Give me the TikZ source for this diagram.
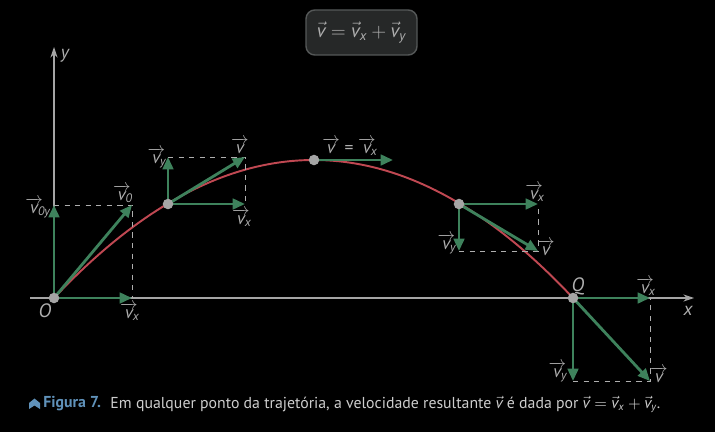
\documentclass[tikz,border=0pt]{standalone}
\usepackage{fontspec}
\setmainfont{PT Sans}
\usepackage{amsmath}
\usetikzlibrary{arrows.meta,positioning}

\definecolor{vecgreen}{RGB}{62,130,92}
\definecolor{trajred}{RGB}{192,72,82}
\definecolor{axisgray}{RGB}{165,165,165}
\definecolor{labgray}{RGB}{175,175,175}
\definecolor{capblue}{RGB}{96,146,186}
\definecolor{captext}{RGB}{205,205,205}
\definecolor{boxfill}{RGB}{38,40,40}
\definecolor{boxline}{RGB}{85,88,88}

\newcommand{\vecv}[1]{$\overrightarrow{\text{\itshape v}}\mkern-5mu_{\text{\itshape #1}}$}
\newcommand{\vecvv}{$\overrightarrow{\text{\itshape v}}$}

\begin{document}
\begin{tikzpicture}[
    x=0.02cm, y=-0.02cm,
    font=\fontsize{10}{12}\selectfont,
    vel/.style={
        draw=vecgreen,
        line width=1.6pt,
        -{Triangle[length=7pt,width=6pt]}
    },
    help/.style={
        draw=labgray,
        dashed,
        line width=0.5pt
    },
    axis/.style={
        draw=axisgray,
        line width=0.6pt,
        -{Stealth[length=6pt,width=4pt]}
    },
    traj/.style={
        draw=trajred,
        line width=1.1pt
    },
    dot/.style={
        circle,
        fill=axisgray,
        inner sep=0pt,
        minimum size=6pt
    },
    vlabel/.style={
        text=labgray,
        inner sep=0pt
    }
  ]

% // background
\fill[black] (0,0) rectangle (715,432);
\useasboundingbox (0,0) rectangle (715,432);

% // axes
\coordinate (xstart) at (30,298);
\coordinate (xend) at (694,298);
\coordinate (ystart) at (54,298);
\coordinate (yend) at (54,47);
\draw [axis] (xstart) -- (xend);
\draw [axis] (ystart) -- (yend);
\node [vlabel, font=\fontsize{10.5}{12}\selectfont\itshape] (xlab) at (688,311) {x};
\node [vlabel, font=\fontsize{10.5}{12}\selectfont\itshape] (ylab) at (65,56) {y};

% // trajectory
\draw [traj] (54,298) .. controls (227.3,114) and (400.7,114) .. (573,298);

% // points
\coordinate (O) at (54,298);
\coordinate (P1) at (168,204);
\coordinate (P2) at (314,160);
\coordinate (P3) at (459,204);
\coordinate (Q) at (573,298);

% // vector tips
\coordinate (O-x) at (132,298);
\coordinate (O-y) at (54,205);
\coordinate (O-v) at (132,205);
\coordinate (P1-x) at (245,204);
\coordinate (P1-y) at (168,157);
\coordinate (P1-v) at (245,157);
\coordinate (P2-v) at (393,160);
\coordinate (P3-x) at (538,204);
\coordinate (P3-y) at (459,251);
\coordinate (P3-v) at (538,251);
\coordinate (Q-x) at (650,298);
\coordinate (Q-y) at (573,381);
\coordinate (Q-v) at (650,381);

% dashed helpers
\draw [help] (O-y) -- (O-v) -- (O-x);
\draw [help] (P1-y) -- (P1-v) -- (P1-x);
\draw [help] (P3-y) -- (P3-v) -- (P3-x);
\draw [help] (Q-y) -- (Q-v) -- (Q-x);

% velocities
\draw [vel] (O) -- (O-x);
\draw [vel] (O) -- (O-y);
\draw [vel] (O) -- (O-v);
\draw [vel] (P1) -- (P1-x);
\draw [vel] (P1) -- (P1-y);
\draw [vel] (P1) -- (P1-v);
\draw [vel] (P2) -- (P2-v);
\draw [vel] (P3) -- (P3-x);
\draw [vel] (P3) -- (P3-y);
\draw [vel] (P3) -- (P3-v);
\draw [vel] (Q) -- (Q-x);
\draw [vel] (Q) -- (Q-y);
\draw [vel] (Q) -- (Q-v);

\foreach \p in {O,P1,P2,P3,Q}
  \node [dot] at (\p) {};

% labels
\node [vlabel, font=\fontsize{11}{12}\selectfont\itshape] (Olab) at (45,311) {O};
\node [vlabel, font=\fontsize{11}{12}\selectfont\itshape] (Qlab) at (578,286) {Q};
\node [vlabel] (O-ylab) at (38,208) {\vecv{0y}};
\node [vlabel] (O-vlab) at (123,194) {\vecv{0}};
\node [vlabel] (O-xlab) at (130,312) {\vecv{x}};
\node [vlabel] (P1-ylab) at (157,158) {\vecv{y}};
\node [vlabel] (P1-vlab) at (240,146) {\vecvv};
\node [vlabel] (P1-xlab) at (242,218) {\vecv{x}};
\node [vlabel] (P2-vlab) at (350,147) {\vecvv\ = \vecv{x}};
\node [vlabel] (P3-xlab) at (535,193) {\vecv{x}};
\node [vlabel] (P3-ylab) at (447,244) {\vecv{y}};
\node [vlabel] (P3-vlab) at (546,248) {\vecvv};
\node [vlabel] (Q-xlab) at (646,287) {\vecv{x}};
\node [vlabel] (Q-ylab) at (558,372) {\vecv{y}};
\node [vlabel] (Q-vlab) at (659,375) {\vecvv};

% // equation box
\node [draw=boxline, fill=boxfill, rounded corners=5pt, line width=0.8pt,
       minimum width=111*0.02cm, minimum height=45*0.02cm,
       text=labgray, font=\fontsize{11}{13}\selectfont] (eqbox) at (361.5,32.5)
 {$\vec{\text{\itshape v}} = \vec{\text{\itshape v}}_{\text{\itshape x}} + \vec{\text{\itshape v}}_{\text{\itshape y}}$};

% // caption
\fill [capblue] (29,409) -- (29,403) -- (34.5,398.5) -- (40,403) -- (40,409) -- (34.5,405.5) -- cycle;
\node [anchor=west, inner sep=0pt, text=capblue, font=\fontsize{9}{11}\selectfont\bfseries] (figlab) at (43,404) {Figura 7.};
\node [anchor=west, inner sep=0pt, text=captext, font=\fontsize{9}{11}\selectfont, right=5pt of figlab] (caption)
 {Em qualquer ponto da trajetória, a velocidade resultante $\vec{\text{\itshape v}}$ é dada por $\vec{\text{\itshape v}} = \vec{\text{\itshape v}}_{\text{\itshape x}} + \vec{\text{\itshape v}}_{\text{\itshape y}}$.};

\end{tikzpicture}
\end{document}
